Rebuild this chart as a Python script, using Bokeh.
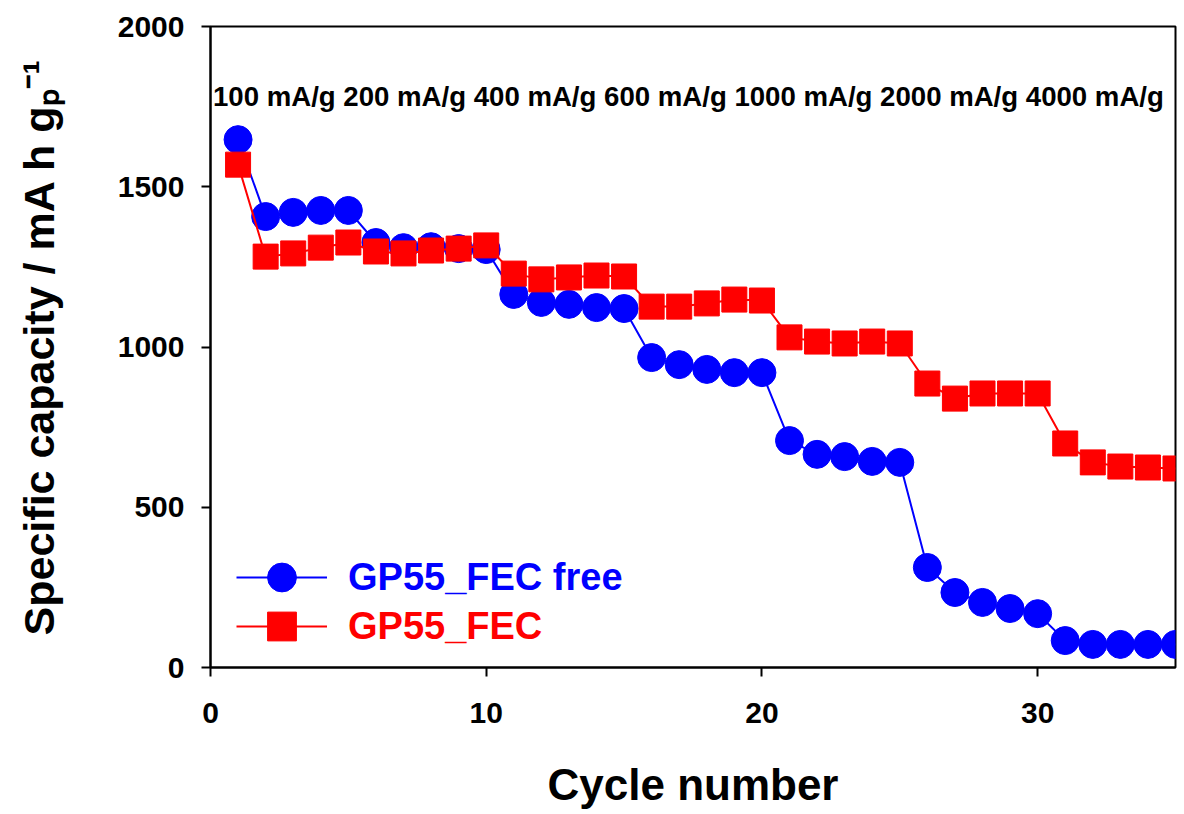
from bokeh.plotting import figure
from bokeh.models import Range1d, Legend, LegendItem, FixedTicker, ColumnDataSource
from bokeh.core.properties import value
from bokeh.embed import file_html
from bokeh.resources import INLINE

# ---- data ----
cycles = list(range(1, 36))
fec_free = [1647, 1407, 1420, 1426, 1426, 1326, 1310, 1313, 1307, 1304,
            1164, 1139, 1133, 1123, 1120, 967, 945, 930, 920, 920,
            708, 665, 658, 643, 640, 312, 234, 203, 184, 168,
            84, 72, 72, 72, 72]
fec = [1569, 1282, 1292, 1310, 1326, 1298, 1292, 1301, 1307, 1317,
       1229, 1211, 1217, 1223, 1220, 1126, 1126, 1136, 1148, 1145,
       1030, 1017, 1011, 1017, 1011, 886, 839, 855, 855, 855,
       699, 640, 627, 624, 621]
rate_labels = ["100 mA/g", "200 mA/g", "400 mA/g", "600 mA/g",
               "1000 mA/g", "2000 mA/g", "4000 mA/g"]
x_ticks = [0, 10, 20, 30]
y_ticks = [0, 500, 1000, 1500, 2000]

FONT = "Liberation Sans"
BLUE = "#0000FF"
RED = "#FF0000"

p = figure(width=1184, height=814, output_backend="svg", toolbar_location=None,
           x_range=Range1d(0, 35), y_range=Range1d(0, 2000),
           min_border_left=210, min_border_right=9, min_border_top=26, min_border_bottom=147)
p.grid.visible = False
p.outline_line_color = "black"
p.outline_line_width = 2
p.background_fill_color = "white"
p.border_fill_color = "white"

for ax in (p.xaxis[0], p.yaxis[0]):
    ax.axis_line_width = 2
    ax.major_tick_line_width = 2
    ax.major_tick_in = 0
    ax.major_tick_out = 9
    ax.minor_tick_line_color = None
    ax.major_label_text_font = FONT
    ax.major_label_text_font_style = "bold"
    ax.major_label_text_font_size = "30px"
    ax.major_label_text_color = "black"
    ax.axis_label_text_font = FONT
    ax.axis_label_text_font_style = "bold"
    ax.axis_label_text_color = "black"

p.xaxis.ticker = FixedTicker(ticks=x_ticks)
p.yaxis.ticker = FixedTicker(ticks=y_ticks)
p.xaxis.major_label_standoff = 26
p.yaxis.major_label_standoff = 17
p.xaxis.axis_label = "Cycle number"
p.xaxis.axis_label_text_font_size = "44px"
p.xaxis.axis_label_standoff = 34
p.yaxis.axis_label = "Specific capacity / mA h g\u209a\u207b\u00b9"
p.yaxis.axis_label_text_font_size = "43px"
p.yaxis.axis_label_standoff = 52

src = ColumnDataSource(dict(x=cycles, a=fec_free, b=fec))

l1 = p.line("x", "a", source=src, line_color=BLUE, line_width=2)
s1 = p.scatter("x", "a", source=src, marker="circle", size=28,
               fill_color=BLUE, line_color=BLUE)
l2 = p.line("x", "b", source=src, line_color=RED, line_width=2)
s2 = p.scatter("x", "b", source=src, marker="square", size=25,
               fill_color=RED, line_color=RED)

p.text(x=[0.09], y=[1782], text=[" ".join(rate_labels)],
       text_font=value(FONT), text_font_style="bold", text_font_size="27.6px",
       text_align="left", text_baseline="middle", text_color="black")

def make_legend(label, renderers, color, ypos):
    lg = Legend(items=[LegendItem(label=label, renderers=renderers)],
                location=(26, ypos), glyph_width=91, glyph_height=72,
                label_standoff=21, padding=0, margin=0, spacing=0,
                border_line_alpha=0, background_fill_alpha=0,
                label_text_font=FONT, label_text_font_style="bold",
                label_text_font_size="38px", label_text_color=color,
                label_height=72)
    p.add_layout(lg)

make_legend("GP55_FEC free", [l1, s1], BLUE, 54)
make_legend("GP55_FEC", [l2, s2], RED, 5)

open("out.html", "w").write(file_html(p, INLINE))
